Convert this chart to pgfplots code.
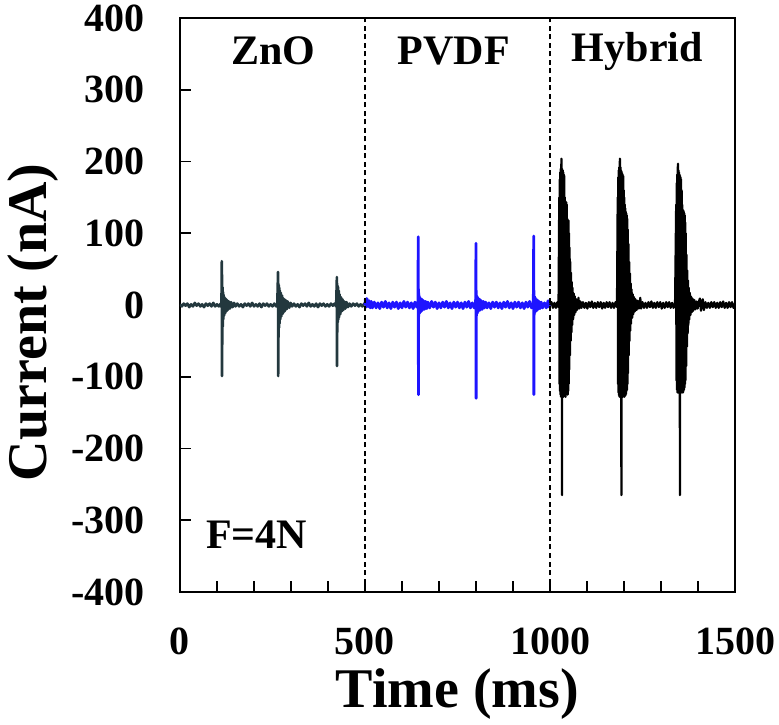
\documentclass[border=0pt]{standalone}
\usepackage{fontspec}
\setmainfont{Liberation Serif}
\usepackage{pgfplots}
\pgfplotsset{compat=1.18}
\definecolor{znoc}{RGB}{35,56,62}
\definecolor{pvdfc}{RGB}{30,20,255}
\begin{document}
\begin{tikzpicture}
\begin{axis}[
 scale only axis, width=555pt, height=574pt,
 xmin=0, xmax=1500, ymin=-400, ymax=400,
 axis line style={line width=2.4pt},
 xtick={0,500,1000,1500}, xticklabels={0,500,1000,1500},
 minor xtick={100,200,300,400,600,700,800,900,1100,1200,1300,1400},
 ytick={-400,-300,-200,-100,0,100,200,300,400},
 yticklabels={-400,-300,-200,-100,0,100,200,300,400},
 tick pos=left, tick align=inside,
 major tick length=11pt, minor tick length=11pt,
 tick style={black, line width=1.6pt},
 ticklabel style={font=\fontsize{40}{40}\selectfont\bfseries, inner sep=0pt},
 xticklabel style={yshift=-36pt},
 yticklabel style={xshift=-35pt},
 xlabel={Time (ms)}, ylabel={Current (nA)},
 label style={font=\fontsize{56}{56}\selectfont\bfseries, inner sep=0pt},
 xlabel style={at={([yshift=-76pt]axis description cs:0.5,0)}, anchor=north},
 ylabel style={at={([xshift=-173pt]axis description cs:0,0.47)}, anchor=north},
]
\coordinate (ll) at (rel axis cs:0,0);
\coordinate (ur) at (rel axis cs:1,1);
% ZnO
\addplot[znoc, line width=2.6pt, line join=round] coordinates {
(0,1)(5,-2)(10,2)(15,-1)(20,2)(25,-3)(30,1)(35,-2)(40,3)(45,-1)(50,2)(55,-2)(60,1)(65,-3)(70,2)(75,-1)(80,2)(85,-2)(90,3)(95,-2)(100,1)(105,-2)(110,2)
(112,-3)(113,61)(113.4,-99)(113.8,42)(114.2,-55)(114.8,25)(115.5,-30)(116.3,18)(117,-20)(118,14)(119,-15)(120,11)(121.5,-12)(123,9)(125,-9)(127,7)(129,-7)(132,5)(135,-5)(138,4)(142,-3)(146,3)(150,-2)
(155,2)(160,-2)(165,1)(170,-3)(175,2)(180,-1)(185,2)(190,-2)(195,3)(200,-2)(205,1)(210,-2)(215,2)(220,-3)(225,2)(230,-1)(235,2)(240,-2)(245,1)(250,-2)(255,2)(260,-2)
(263,2)(265,46)(265.4,-99)(265.8,30)(266.2,-45)(266.8,28)(267.5,-32)(268.3,24)(269,-26)(270,20)(271,-20)(272.5,17)(274,-16)(276,13)(278,-12)(280,9)(282.5,-9)(285,7)(288,-6)(291,5)(295,-4)(299,3)(303,-2)
(308,2)(313,-2)(318,1)(323,-3)(328,2)(333,-1)(338,2)(343,-2)(348,3)(353,-2)(358,1)(363,-2)(368,2)(373,-3)(378,2)(383,-1)(388,2)(393,-2)(398,1)(403,-2)(408,2)(413,-1)(418,2)(422,-2)
(424,39)(424.4,-85)(424.8,30)(425.2,-38)(425.8,27)(426.5,-24)(427.3,25)(428,-20)(429,20)(430,-17)(431.5,15)(433,-13)(435,11)(437,-9)(439,8)(441.5,-7)(444,5)(447,-5)(450,4)(454,-3)(458,2)
(463,-2)(468,2)(473,-1)(478,2)(483,-2)(488,1)(493,-2)(498,2)(500,0)
};
% PVDF
\addplot[pvdfc, line width=2.8pt, line join=round] coordinates {
(500,0)(501,8)(503,-3)(505,9)(508,-2)(511,6)(514,-4)(517,5)(520,-4)(525,4)(530,-4)(535,3)(540,-5)(545,4)(550,-3)(555,5)(560,-4)(565,3)(570,-5)(575,4)(580,-3)(585,4)(590,-5)(595,3)(600,-4)(605,5)(610,-3)(615,4)(620,-4)(625,3)(630,-5)(635,4)(640,-3)(643,3)
(644,95)(644.4,-125)(644.8,22)(645.3,-16)(646,14)(647,-12)(648,11)(649,-10)(650.5,9)(652,-9)(654,8)(656,-7)(658.5,6)(661,-6)(664,5)(667,-5)(670,4)
(675,-4)(680,5)(685,-3)(690,4)(695,-5)(700,3)(705,-4)(710,4)(715,-3)(720,5)(725,-4)(730,3)(735,-5)(740,4)(745,-3)(750,4)(755,-4)(760,3)(765,-5)(770,4)(775,-3)(780,5)(785,-4)(790,3)(795,-4)(799,3)
(800,86)(800.4,-130)(800.8,20)(801.3,-15)(802,13)(803,-12)(804,11)(805,-10)(806.5,9)(808,-8)(810,8)(812,-7)(814.5,6)(817,-6)(820,5)(823,-4)(826,4)
(830,-4)(835,3)(840,-5)(845,4)(850,-3)(855,4)(860,-4)(865,3)(870,-5)(875,4)(880,-3)(885,5)(890,-4)(895,3)(900,-5)(905,4)(910,-3)(915,4)(920,-4)(925,3)(930,-5)(935,4)(940,-3)(945,5)(950,-4)(955,3)
(956,96)(956.4,-125)(956.8,20)(957.3,-14)(958,12)(959,-11)(960,10)(961,-9)(962.5,8)(964,-8)(966,7)(968,-6)(970.5,5)(973,-5)(976,4)(980,-4)(985,3)(990,-4)(995,6)(998,-3)(1000,0)
};
% Hybrid
\addplot[black, line width=2.2pt, line join=round] coordinates {
(1000,0)(1004,4)(1008,-4)(1012,3)(1016,-4)(1020,4)(1023,-3)
(1025,150)(1025.7,-110)(1026.4,175)(1027.1,-120)(1027.8,185)(1028.5,-125)(1029.2,190)(1029.9,-128)(1030.6,195)(1031,204)(1031.5,-125)(1032.2,190)(1032.6,-265)(1033,185)(1033.7,-128)(1034.4,188)(1035.1,-125)(1035.8,185)(1036.5,-128)(1037.2,182)(1037.9,-125)(1038.6,180)(1039.3,-125)(1040,150)(1040.7,-125)(1041.4,145)(1042.1,-128)(1042.8,143)(1043.5,-125)(1044.2,143)(1044.9,-122)(1045.6,140)(1046.3,-120)(1047,120)(1047.7,-125)(1048.4,118)(1049.1,-120)(1049.8,118)(1050.5,-110)(1051.2,100)(1052,-90)(1053,80)(1054,-70)(1055,60)(1056,-50)(1057,45)(1058,-38)(1059,32)(1060,-28)(1061,24)(1062.5,-20)(1064,16)(1065.5,-14)(1067,12)(1069,-10)(1071,8)(1073,-7)(1076,6)(1077,10)(1079,-5)(1082,5)(1085,-4)
(1089,4)(1093,-4)(1097,3)(1101,-5)(1105,4)(1109,-3)(1113,5)(1117,-4)(1121,3)(1125,-4)(1129,4)(1133,-3)(1137,4)(1141,-5)(1145,3)(1149,-4)(1153,4)(1157,-3)(1161,4)(1165,-4)(1169,3)(1173,-4)(1177,4)(1181,-3)
(1183,150)(1183.7,-110)(1184.4,178)(1185.1,-122)(1185.8,188)(1186.5,-126)(1187.2,192)(1187.9,-128)(1188.6,198)(1189,204)(1189.6,-126)(1190.3,192)(1191,-128)(1191.7,188)(1192.4,-125)(1193,-265)(1193.5,186)(1194.2,-128)(1194.9,184)(1195.6,-126)(1196.3,182)(1197,-128)(1197.7,180)(1198.4,-125)(1199.1,160)(1199.8,-126)(1200.5,150)(1201.2,-128)(1201.9,140)(1202.6,-125)(1203.3,135)(1204,-126)(1204.7,130)(1205.4,-124)(1206.1,128)(1206.8,-120)(1207.5,125)(1208.2,-118)(1208.9,120)(1209.6,-110)(1210.3,105)(1211,-95)(1212,85)(1213,-70)(1214,60)(1215,-50)(1216,44)(1217,-36)(1218,30)(1219,-26)(1220.5,22)(1222,-18)(1223.5,15)(1225,-13)(1227,11)(1229,-9)(1231,8)(1234,-7)(1237,6)(1240,-5)(1243,5)(1244,10)(1246,-5)
(1250,4)(1254,-4)(1258,3)(1262,-4)(1266,4)(1270,-3)(1274,5)(1278,-4)(1282,3)(1286,-4)(1290,4)(1294,-3)(1298,4)(1302,-5)(1306,3)(1310,-4)(1314,4)(1318,-3)(1322,4)(1326,-4)(1330,3)(1334,-4)(1338,3)
(1341,140)(1341.7,-105)(1342.4,170)(1343.1,-118)(1343.8,182)(1344.5,-122)(1345.2,190)(1346,197)(1346.6,-122)(1347.3,188)(1348,-122)(1348.7,185)(1349.4,-120)(1350.1,182)(1350.8,-122)(1351.2,-265)(1351.6,180)(1352.3,-120)(1353,178)(1353.7,-122)(1354.4,175)(1355.1,-120)(1355.8,160)(1356.5,-122)(1357.2,140)(1357.9,-120)(1358.6,133)(1359.3,-122)(1360,132)(1360.7,-120)(1361.4,130)(1362.1,-118)(1362.8,128)(1363.5,-115)(1364.2,125)(1364.9,-110)(1365.6,115)(1366.3,-105)(1367,100)(1368,-85)(1369,70)(1370,-58)(1371,48)(1372,-40)(1373,34)(1374,-28)(1375,24)(1376.5,-20)(1378,17)(1379.5,-14)(1381,12)(1383,-10)(1385,9)(1387,-8)(1390,7)(1393,-6)(1396,5)(1399,-5)
(1402,4)(1405,9)(1408,-8)(1411,4)(1413,8)(1416,-7)
(1420,4)(1424,-4)(1428,3)(1432,-4)(1436,4)(1440,-3)(1444,4)(1448,-4)(1452,3)(1456,-4)(1460,4)(1464,-3)(1468,5)(1472,-4)(1476,3)(1480,-4)(1484,4)(1488,-3)(1492,4)(1496,-4)(1500,2)
};
% separators
\addplot[black, line width=1.1pt, dash pattern=on 5pt off 3.5pt] coordinates {(500,-400)(500,400)};
\addplot[black, line width=1.1pt, dash pattern=on 5pt off 3.5pt] coordinates {(1000,-400)(1000,400)};
\node[font=\fontsize{42}{42}\selectfont\bfseries] at (axis cs:253,354) {ZnO};
\node[font=\fontsize{42}{42}\selectfont\bfseries] at (axis cs:740,354) {PVDF};
\node[font=\fontsize{42}{42}\selectfont\bfseries] at (axis cs:1236,354) {Hybrid};
\node[font=\fontsize{42}{42}\selectfont\bfseries] at (axis cs:207,-320) {F=4N};
\end{axis}
\pgfresetboundingbox
\path[use as bounding box] ([shift={(-180pt,-133pt)}]ll) rectangle ([shift={(44pt,18pt)}]ur);
\end{tikzpicture}
\end{document}
